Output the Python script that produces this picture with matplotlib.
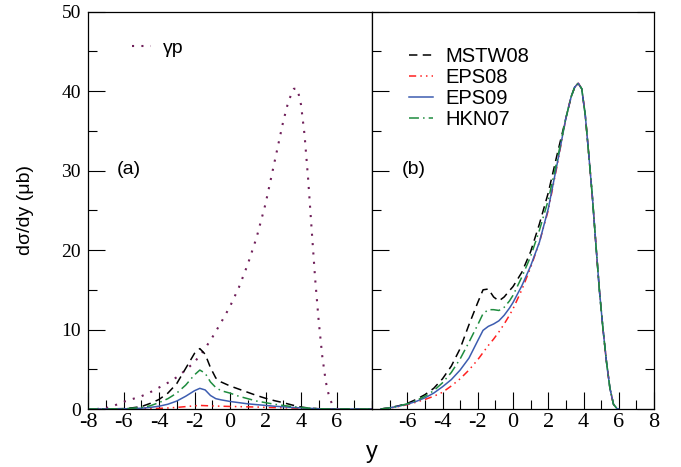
import matplotlib
matplotlib.use("Agg")
import matplotlib.pyplot as plt
from matplotlib.ticker import MultipleLocator

# panel (a): gamma-p reference and nuclear contributions
y_gp = [-7.5, -7, -6.5, -6, -5.5, -5, -4.5, -4, -3.5, -3, -2.5, -2, -1.5, -1, -0.5, 0,
        0.5, 1, 1.5, 2, 2.5, 3, 3.3, 3.6, 3.8, 4.0, 4.2, 4.4, 4.6, 4.8, 5.0, 5.2, 5.4,
        5.6, 5.8, 6.0]
gp = [0, 0.1, 0.45, 0.9, 1.25, 1.6, 2.1, 2.7, 3.3, 4.0, 4.9, 5.9, 7.3, 9.0, 10.9, 12.9,
      15.3, 18.2, 21.6, 25.8, 31.0, 36.2, 38.8, 40.3, 40.3, 38.3, 34.5, 29.0, 22.6, 16.3,
      11.0, 6.6, 3.4, 1.4, 0.4, 0.05]

y_a = [-8, -7, -6, -5.5, -5, -4.5, -4, -3.5, -3, -2.5, -2, -1.7, -1.4, -1.1, -0.8, -0.5,
       0, 0.5, 1, 1.5, 2, 2.5, 3, 3.5, 4, 4.5, 5, 5.5, 6, 7, 8]
mstw_a = [0, 0, 0.05, 0.15, 0.3, 0.7, 1.2, 2.0, 3.2, 5.1, 7.0, 7.6, 6.9, 5.2, 3.9, 3.4,
          2.9, 2.5, 2.1, 1.7, 1.35, 1.05, 0.8, 0.5, 0.25, 0.1, 0.03, 0, 0, 0, 0]
eps08_a = [0, 0, 0, 0.01, 0.02, 0.05, 0.08, 0.13, 0.2, 0.3, 0.4, 0.45, 0.42, 0.4, 0.37, 0.35,
           0.32, 0.3, 0.27, 0.25, 0.2, 0.18, 0.15, 0.12, 0.1, 0.06, 0.03, 0, 0, 0, 0]
eps09_a = [0, 0, 0.02, 0.05, 0.1, 0.2, 0.35, 0.6, 1.0, 1.6, 2.3, 2.6, 2.4, 1.7, 1.3, 1.15,
           0.95, 0.8, 0.65, 0.55, 0.45, 0.35, 0.28, 0.2, 0.14, 0.08, 0.03, 0, 0, 0, 0]
hkn_a = [0, 0, 0.03, 0.1, 0.2, 0.4, 0.8, 1.3, 2.0, 3.0, 4.3, 4.9, 4.5, 3.4, 2.7, 2.3,
         2.0, 1.6, 1.3, 1.0, 0.8, 0.6, 0.45, 0.3, 0.2, 0.1, 0.03, 0, 0, 0, 0]

# panel (b): totals
y_b = [-7.5, -7, -6.5, -6, -5.5, -5, -4.5, -4, -3.5, -3, -2.5, -2, -1.7, -1.4, -1.1, -0.8,
       -0.5, -0.2, 0, 0.5, 1, 1.5, 2, 2.5, 3, 3.3, 3.5, 3.7, 3.9, 4.1, 4.3, 4.5, 4.7, 4.9,
       5.1, 5.3, 5.5, 5.7, 5.9, 6.0]
tail_b = [36.6, 39.3, 40.5, 41.0, 40.3, 37.0, 32.0, 26.8, 20.8, 15.0, 10.2, 6.0, 2.6, 0.6,
          0.05, 0]
mstw_b = [0, 0.15, 0.4, 0.7, 1.2, 1.8, 2.6, 3.8, 5.4, 7.6, 10.6, 13.4, 15.0, 15.1, 14.1, 13.6,
          14.1, 14.9, 15.4, 17.2, 19.8, 23.3, 27.2, 32.0] + tail_b
eps08_b = [0, 0.12, 0.3, 0.55, 0.85, 1.2, 1.6, 2.1, 2.9, 3.8, 4.9, 6.2, 7.1, 8.0, 8.8, 9.7,
           10.7, 11.8, 12.6, 15.0, 17.8, 21.0, 25.0, 30.6] + tail_b
eps09_b = [0, 0.15, 0.35, 0.6, 0.95, 1.4, 2.0, 2.8, 3.7, 4.9, 6.4, 8.6, 9.9, 10.4, 10.7, 11.1,
           11.8, 12.7, 13.4, 15.5, 18.0, 21.0, 25.2, 30.8] + tail_b
hkn_b = [0, 0.15, 0.38, 0.65, 1.05, 1.6, 2.3, 3.3, 4.6, 6.3, 8.4, 10.6, 12.0, 12.5, 12.5, 12.4,
         12.8, 13.6, 14.3, 16.6, 19.2, 22.5, 26.3, 31.3] + tail_b

SANS = "Liberation Sans"
SERIF = "Liberation Serif"

styles = {
    "MSTW08": dict(color="black", lw=1.1, ls=(0, (5.5, 3.5))),
    "EPS08": dict(color="#ff2020", lw=1.1, ls=(0, (4.7, 2.7, 1, 2.7, 1, 2.7))),
    "EPS09": dict(color="#3d5db0", lw=1.1, ls="-"),
    "HKN07": dict(color="#1e8c3e", lw=1.1, ls=(0, (6.5, 2.7, 1, 2.7))),
}
gp_style = dict(color="#70205a", lw=1.5, ls=(0, (1, 3.5)))

fig = plt.figure(figsize=(6.81, 4.67), dpi=100)
ax1 = fig.add_axes([88 / 681, 1 - 409 / 467, 284 / 681, 397.3 / 467])
ax2 = fig.add_axes([372 / 681, 1 - 409 / 467, 282 / 681, 397.3 / 467])

ax1.plot(y_gp, gp, label="\u03b3p", **gp_style)
ax1.plot(y_a, mstw_a, **styles["MSTW08"])
ax1.plot(y_a, eps08_a, **styles["EPS08"])
ax1.plot(y_a, eps09_a, **styles["EPS09"])
ax1.plot(y_a, hkn_a, **styles["HKN07"])

ax2.plot(y_b, mstw_b, label="MSTW08", **styles["MSTW08"])
ax2.plot(y_b, eps08_b, label="EPS08", **styles["EPS08"])
ax2.plot(y_b, eps09_b, label="EPS09", **styles["EPS09"])
ax2.plot(y_b, hkn_b, label="HKN07", **styles["HKN07"])

for ax in (ax1, ax2):
    ax.set_xlim(-8, 8)
    ax.set_ylim(0, 50)
    ax.xaxis.set_minor_locator(MultipleLocator(1))
    ax.yaxis.set_minor_locator(MultipleLocator(5))
    ax.yaxis.set_major_locator(MultipleLocator(10))
    ax.tick_params(which="major", direction="in", length=12, width=0.8)
    ax.tick_params(which="minor", direction="in", length=6.5, width=0.8)
    ax.tick_params(axis="x", pad=3, labelsize=16)
    ax.tick_params(axis="y", pad=5, labelsize=14)
    for sp in ax.spines.values():
        sp.set_linewidth(0.9)

ax1.set_xticks([-8, -6, -4, -2, 0, 2, 4, 6])
ax1.set_xticklabels(["-8", "-6", "-4", "-2", "0", "2", "4", "6"], fontfamily=SERIF)
ax1.set_yticks([0, 10, 20, 30, 40, 50])
ax1.set_yticklabels(["0", "10", "20", "30", "40", "50"], fontfamily=SERIF)
ax1.tick_params(which="both", right=False, top=False)

ax2.set_xticks([-6, -4, -2, 0, 2, 4, 6, 8])
ax2.set_xticklabels(["-6", "-4", "-2", "0", "2", "4", "6", "8"], fontfamily=SERIF)
ax2.tick_params(which="both", left=True, right=True, top=False, labelleft=False)

ax1.set_ylabel("d\u03c3/dy (\u03bcb)", fontsize=14, fontfamily=SANS, labelpad=20)
fig.text(372 / 681, 1 - 452 / 467, "y", fontsize=17, fontfamily=SANS,
         ha="center", va="center")

ax1.text(0.144, 0.602, "(a)", transform=ax1.transAxes, fontsize=14,
         fontfamily=SANS, ha="center", va="center")
ax2.text(0.149, 0.602, "(b)", transform=ax2.transAxes, fontsize=14,
         fontfamily=SANS, ha="center", va="center")

ax1.legend(loc="upper left", bbox_to_anchor=(0.155, 0.93), frameon=False,
           borderpad=0, borderaxespad=0, handlelength=1.0, handletextpad=0.6,
           prop={"family": SANS, "size": 14})
ax2.legend(loc="upper left", bbox_to_anchor=(0.13, 0.912), frameon=False,
           borderpad=0, borderaxespad=0, handlelength=1.2, handletextpad=0.6,
           labelspacing=0.1, prop={"family": SANS, "size": 14.5})

fig.savefig("out.png", dpi=100)
